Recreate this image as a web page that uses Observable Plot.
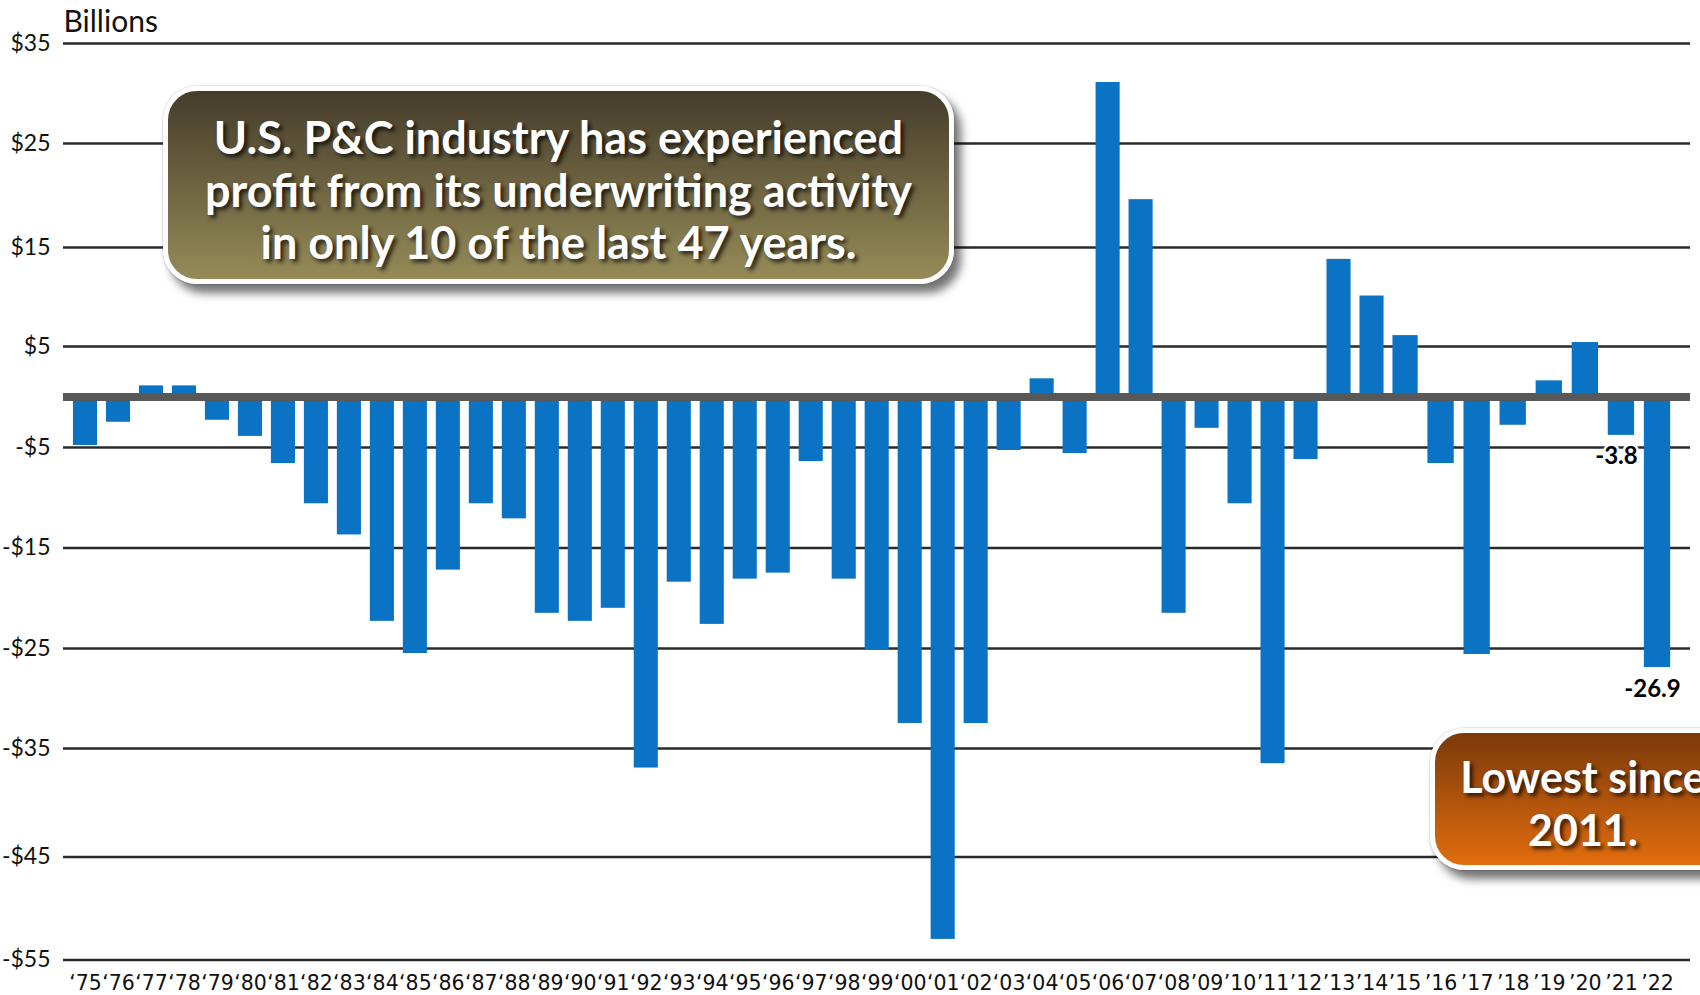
<!DOCTYPE html>
<html>
<head>
<meta charset="utf-8">
<script src="https://cdn.jsdelivr.net/npm/d3@7"></script>
<script src="https://cdn.jsdelivr.net/npm/@observablehq/plot@0.6"></script>
<style>
  html, body { margin: 0; padding: 0; background: #fff; overflow: hidden; }
  #wrap { position: relative; width: 1700px; height: 995px; overflow: hidden; background: #fff; }
  #wrap svg { display: block; }
  .note {
    position: absolute; box-sizing: border-box;
    border: 5px solid #fff; border-radius: 34px;
    color: #fff; font-family: Lato, "Open Sans", sans-serif; font-weight: 700;
    text-align: center; white-space: nowrap;
    text-shadow: 3px 3px 4px rgba(0,0,0,0.75);
    box-shadow: 7px 9px 10px rgba(0,0,0,0.55), 0 0 2px rgba(0,0,0,0.35);
  }
  #note1 {
    left: 163px; top: 86px; width: 791px; height: 198px;
    background: linear-gradient(#453c2b, #958b57);
    font-size: 45px; line-height: 52.6px; padding-top: 20px;
  }
  #note2 {
    left: 1430px; top: 728px; width: 306px; height: 142px;
    background: linear-gradient(#7b390a, #e26d0e);
    font-size: 43px; line-height: 53px; padding-top: 17px;
  }
</style>
</head>
<body>
<div id="wrap"></div>
<script>
// ---- data ----
const years = [1975,1976,1977,1978,1979,1980,1981,1982,1983,1984,1985,1986,1987,1988,1989,1990,
  1991,1992,1993,1994,1995,1996,1997,1998,1999,2000,2001,2002,2003,2004,2005,2006,2007,2008,
  2009,2010,2011,2012,2013,2014,2015,2016,2017,2018,2019,2020,2021,2022];
const yearLabels = ["‘75","‘76","‘77","‘78","‘79","‘80","‘81","‘82","‘83","‘84","‘85","‘86","‘87","‘88",
  "‘89","‘90","‘91","‘92","‘93","‘94","‘95","‘96","‘97","‘98","‘99","‘00","‘01","‘02","‘03","‘04",
  "‘05","‘06","‘07","‘08","’09","’10","’11","’12","’13","’14","’15","’16","’17","’18","’19","’20","’21","’22"];
const values = [-4.8,-2.5,1.1,1.1,-2.3,-3.9,-6.6,-10.6,-13.7,-22.3,-25.5,-17.2,-10.6,-12.1,-21.5,-22.3,
  -21.0,-36.8,-18.4,-22.6,-18.1,-17.5,-6.4,-18.1,-25.1,-32.5,-53.0,-32.5,-5.3,1.8,-5.6,31.1,19.6,-21.5,
  -3.1,-10.6,-36.4,-6.2,13.8,10.1,6.1,-6.6,-25.6,-2.8,1.6,5.4,-3.8,-26.9];
const yTicks = [35,25,15,5,-5,-15,-25,-35,-45,-55];
const yTickLabels = ["$35","$25","$15","$5","-$5","-$15","-$25","-$35","-$45","-$55"];
const calloutYears = [2021, 2022];
const calloutLabels = ["-3.8", "-26.9"];
const unitLabel = "Billions";

const data = years.map((year, i) => ({year, value: values[i]}));
const callouts = calloutYears.map((year, i) => ({year, value: values[years.indexOf(year)], label: calloutLabels[i]}));

const chart = Plot.plot({
  width: 1700,
  height: 995,
  marginTop: 43,
  marginBottom: 35.5,
  marginLeft: 63,
  marginRight: 10,
  style: {fontFamily: "Lato, 'Open Sans', sans-serif", background: "#fff", color: "#111"},
  x: {type: "linear", domain: [1975, 2015, 2022], range: [85, 1404.5, 1657]},
  y: {type: "linear",
      domain: [-55, -45, -35, -25, -15, -5, 5, 15, 25, 35],
      range: [959.5, 856.5, 748, 648, 547.5, 447, 346, 247, 143, 43]},
  marks: [
    Plot.ruleY(yTicks, {stroke: "#2a2a2a", strokeWidth: 2.5}),
    Plot.rectY(data, {x1: d => d.year - 0.365, x2: d => d.year + 0.365, y1: 0, y2: "value", fill: "#0b73c3"}),
    Plot.ruleY([0], {stroke: "#585858", strokeWidth: 8}),
    Plot.axisY(yTicks, {tickSize: 0, tickPadding: 13, label: null,
      tickFormat: d => yTickLabels[yTicks.indexOf(d)], fontSize: 23, fill: "#111"}),
    Plot.axisX(years, {tickSize: 0, tickPadding: 15, label: null,
      tickFormat: d => yearLabels[years.indexOf(d)], fontSize: 20.5,
      fontFamily: "'DejaVu Sans', sans-serif", fill: "#111"}),
    Plot.text([unitLabel], {frameAnchor: "top-left", dy: -33, textAnchor: "start", fontSize: 30, fill: "#111"}),
    Plot.text(callouts, {x: "year", y: "value", text: "label", dx: -5, dy: 12, lineAnchor: "top",
      fontWeight: "bold", fontSize: 24, fill: "#000", stroke: "#fff", strokeWidth: 5})
  ]
});

const wrap = document.getElementById("wrap");
wrap.appendChild(chart);

const n1 = document.createElement("div");
n1.className = "note"; n1.id = "note1";
n1.innerHTML = "U.S. P&amp;C industry has experienced<br>profit from its underwriting activity<br>in only 10 of the last 47 years.";
wrap.appendChild(n1);

const n2 = document.createElement("div");
n2.className = "note"; n2.id = "note2";
n2.innerHTML = "Lowest since<br>2011.";
wrap.appendChild(n2);
</script>
</body>
</html>
